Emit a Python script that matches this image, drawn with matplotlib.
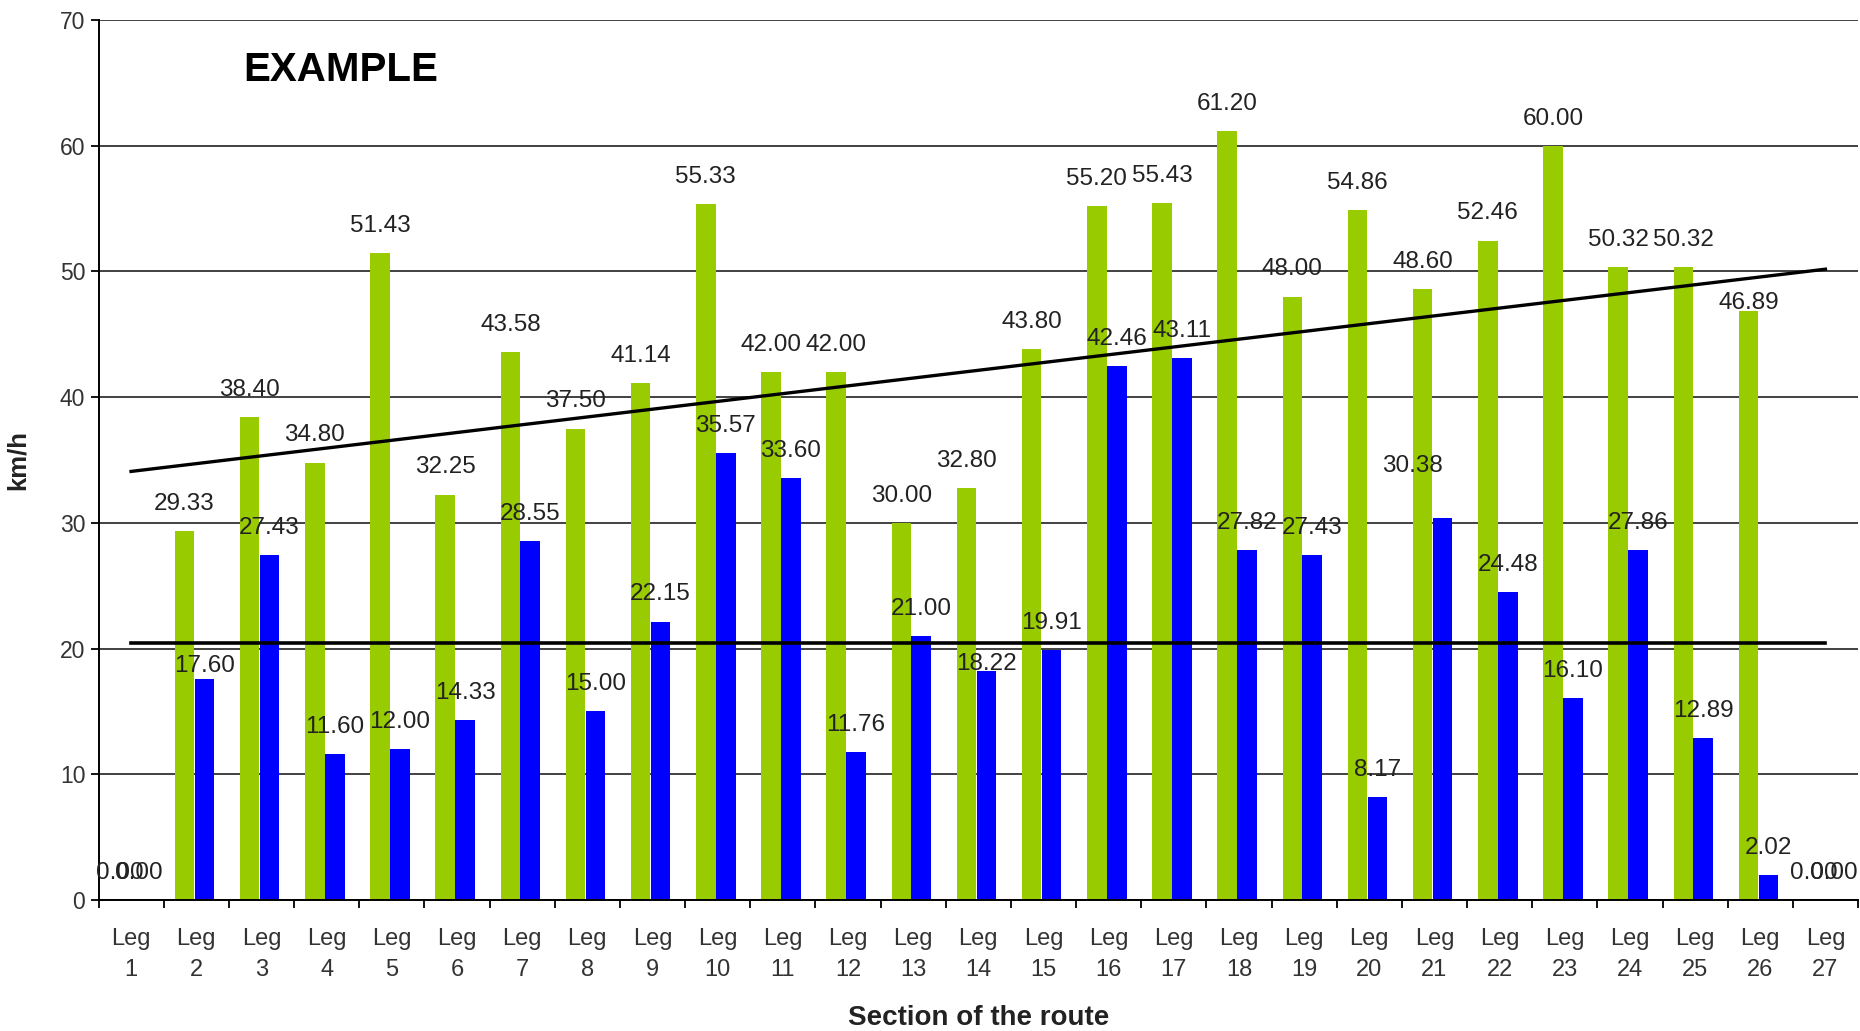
import numpy as np
import matplotlib
matplotlib.use("Agg")
import matplotlib.pyplot as plt

plt.rcParams["font.family"] = ["Liberation Sans", "DejaVu Sans"]

legs = [f"Leg\n{i}" for i in range(1, 28)]
green = [0.00, 29.33, 38.40, 34.80, 51.43, 32.25, 43.58, 37.50, 41.14, 55.33,
         42.00, 42.00, 30.00, 32.80, 43.80, 55.20, 55.43, 61.20, 48.00, 54.86,
         48.60, 52.46, 60.00, 50.32, 50.32, 46.89, 0.00]
blue = [0.00, 17.60, 27.43, 11.60, 12.00, 14.33, 28.55, 15.00, 22.15, 35.57,
        33.60, 11.76, 21.00, 18.22, 19.91, 42.46, 43.11, 27.82, 27.43, 8.17,
        30.38, 24.48, 16.10, 27.86, 12.89, 2.02, 0.00]

GREEN = "#99CC00"
BLUE = "#0000FF"
TXT = "#222222"

# hand-placed data labels in the original (offsets in points)
green_nudge = {25: (0, 5.5)}
blue_nudge = {1: (0, 9.5), 13: (0, 5), 20: (-22, 37.5)}

W, H = 1860, 1031
fig = plt.figure(figsize=(W / 100, H / 100), dpi=100)
ax = fig.add_axes([98.5 / W, 131 / H, (1858 - 98.5) / W, (1011 - 131) / H])

x = np.arange(len(legs))
ax.bar(x - 0.18, green, 0.30, color=GREEN, zorder=2)
ax.bar(x + 0.125, blue, 0.30, color=BLUE, zorder=2)

# linear trendline for green, flat average line for blue
ends = x[[0, -1]]
ax.plot(ends, np.polyval(np.polyfit(x, green, 1), ends), color="black", lw=2.4, zorder=3)
ax.plot(ends, [np.mean(blue)] * 2, color="black", lw=2.6, zorder=3)

for i, v in enumerate(green):
    dx, dy = green_nudge.get(i, (0, 19.5))
    ax.annotate(f"{v:.2f}", (i - 0.18, v), xytext=(dx, dy), textcoords="offset points",
                ha="center", va="center", fontsize=17.5, color=TXT, zorder=4)
for i, v in enumerate(blue):
    dx, dy = blue_nudge.get(i, (0, 19.5))
    ax.annotate(f"{v:.2f}", (i + 0.125, v), xytext=(dx, dy), textcoords="offset points",
                ha="center", va="center", fontsize=17.5, color=TXT, zorder=4)

ax.set_xlim(-0.5, len(legs) - 0.5)
ax.set_ylim(0, 70)
ax.set_yticks(range(0, 71, 10))
ax.set_xticks(x)
ax.set_xticklabels(legs, linespacing=1.55)
ax.set_xticks(np.arange(-0.5, len(legs), 1), minor=True)
ax.tick_params(axis="x", which="major", length=0, pad=20, labelsize=17, labelcolor="#333333")
ax.tick_params(axis="x", which="minor", length=5.5, width=1.3, direction="out", color="black")
ax.tick_params(axis="y", length=5.5, width=1.3, direction="out", pad=4, labelsize=16.5,
               labelcolor="#333333")

ax.grid(axis="y", color="#333333", lw=1.3)
ax.set_axisbelow(True)
for s in ("top", "right"):
    ax.spines[s].set_visible(False)
for s in ("left", "bottom"):
    ax.spines[s].set_linewidth(1.4)
    ax.spines[s].set_color("black")

ax.text(0.0824, 0.9435, "EXAMPLE", transform=ax.transAxes, fontsize=29, fontweight="bold",
        ha="left", va="center", color="black")
ax.set_xlabel("Section of the route", fontsize=20, fontweight="bold", color="#222222", labelpad=17)
ax.set_ylabel("km/h", fontsize=18.5, fontweight="bold", color="#222222", labelpad=22)

fig.savefig("out.png", dpi=100)
